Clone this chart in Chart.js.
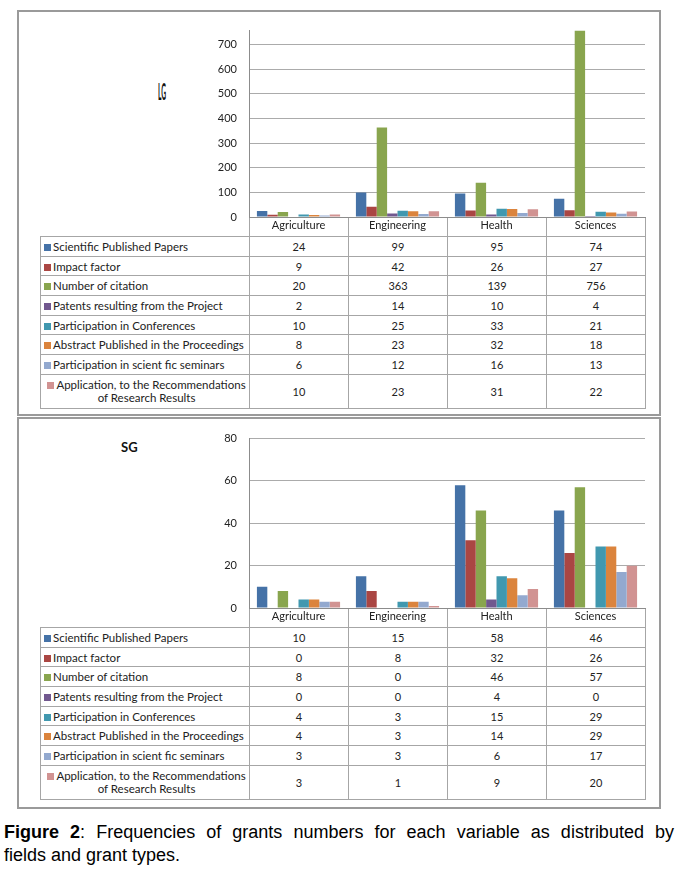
<!DOCTYPE html>
<html><head><meta charset="utf-8">
<script src="https://cdn.jsdelivr.net/npm/chart.js@4"></script>
<style>
body{margin:0;background:#fff;width:679px;height:871px;position:relative;overflow:hidden;font-family:Lato,sans-serif;}
.box{position:absolute;left:17px;width:644px;border:2px solid #9a9a9a;box-sizing:border-box;}
.cw{position:absolute;}
table{position:absolute;left:40px;border-collapse:collapse;font-family:Lato,sans-serif;font-size:11px;color:#222;table-layout:fixed;}
td{border:1px solid #a6a6a6;padding:0;text-align:center;line-height:13px;}
tr{height:19.7px;}
td.lab{text-align:left;padding-left:3px;white-space:nowrap;font-size:11.5px;}
td.lab2{text-align:center;padding-left:3px;white-space:nowrap;font-size:11.5px;}
.sq{display:inline-block;width:7px;height:7px;margin-right:2px;vertical-align:0px;}
.title{position:absolute;font-weight:bold;font-size:12px;line-height:12px;color:#111;}
.cap{position:absolute;left:4px;width:670px;font-family:"Liberation Sans",Arial,sans-serif;font-size:18px;line-height:23px;color:#000;white-space:nowrap;}
.cap1{text-align:justify;text-align-last:justify;white-space:normal;}
</style></head>
<body>
<div class="box" style="top:10px;height:406px;"></div>
<div class="box" style="top:417px;height:392px;"></div>
<span class="title" style="left:158px;top:81px;transform:scale(0.55,1.9);transform-origin:0 0;">LG</span>
<span class="title" style="left:121px;top:441px;font-size:13px;line-height:13px;">SG</span>
<div class="cw" style="left:190px;top:12px;width:470px;height:224px;"><canvas id="c1"></canvas></div>
<div class="cw" style="left:190px;top:420px;width:470px;height:207px;"><canvas id="c2"></canvas></div>
<table id="t1" style="top:236px;"></table>
<table id="t2" style="top:627px;"></table>
<div class="cap cap1" style="top:821px;"><b>Figure 2</b>: Frequencies of grants numbers for each variable as distributed by</div>
<div class="cap" style="top:844px;">fields and grant types.</div>
<script>
const categories = ['Agriculture','Engineering','Health','Sciences'];
const seriesNames = ['Scientific Published Papers','Impact factor','Number of citation','Patents resulting from the Project','Participation in Conferences','Abstract Published in the Proceedings','Participation in scient\u00A0fic seminars','Application, to the Recommendations|of Research Results'];
const seriesColors = ['#4572A7','#AA4643','#89A54E','#71588F','#4198AF','#DB843D','#93A9CF','#D19392'];

// LG values (per series, by category)
const lgPapers = [24,99,95,74];
const lgImpact = [9,42,26,27];
const lgCitation = [20,363,139,756];
const lgPatents = [2,14,10,4];
const lgConferences = [10,25,33,21];
const lgAbstracts = [8,23,32,18];
const lgSeminars = [6,12,16,13];
const lgApplication = [10,23,31,22];

// SG values
const sgPapers = [10,15,58,46];
const sgImpact = [0,8,32,26];
const sgCitation = [8,0,46,57];
const sgPatents = [0,0,4,0];
const sgConferences = [4,3,15,29];
const sgAbstracts = [4,3,14,29];
const sgSeminars = [3,3,6,17];
const sgApplication = [3,1,9,20];

const lgTicks = [0,100,200,300,400,500,600,700];
const sgTicks = [0,20,40,60,80];

const lgSeries = [lgPapers,lgImpact,lgCitation,lgPatents,lgConferences,lgAbstracts,lgSeminars,lgApplication];
const sgSeries = [sgPapers,sgImpact,sgCitation,sgPatents,sgConferences,sgAbstracts,sgSeminars,sgApplication];

const FONT = {family:'Lato, sans-serif', size:11};

function makeChart(id, series, max, ticks, includeBounds){
  const step = ticks[1]-ticks[0];
  return new Chart(document.getElementById(id), {
    type:'bar',
    data:{
      labels:categories,
      datasets:series.map((d,i)=>({label:seriesNames[i].replace('|',' '),data:d,backgroundColor:seriesColors[i],borderWidth:0,categoryPercentage:0.84,barPercentage:1.0}))
    },
    options:{
      responsive:true, maintainAspectRatio:false, animation:false,
      devicePixelRatio:1,
      layout:{padding:{top:12,right:15,bottom:0,left:0}},
      plugins:{legend:{display:false},tooltip:{enabled:false},title:{display:false}},
      scales:{
        x:{
          grid:{display:true,drawOnChartArea:false,drawTicks:true,tickLength:19,color:'#a6a6a6',offset:true},
          border:{display:true,color:'#8c8c8c'},
          ticks:{padding:-17,font:FONT,color:'#222',maxRotation:0,autoSkip:false},
          afterFit(s){s.height=19;}
        },
        y:{
          min:0,max:max,
          ticks:{stepSize:step,includeBounds:includeBounds,padding:12,font:FONT,color:'#222'},
          grid:{color:'#ababab',drawTicks:false},
          border:{display:true,color:'#8c8c8c'},
          afterFit(s){s.width=59;}
        }
      }
    }
  });
}
makeChart('c1', lgSeries, 756, lgTicks, false);
makeChart('c2', sgSeries, 80, sgTicks, true);

function buildTable(id, series){
  const t = document.getElementById(id);
  let h = '<colgroup><col style="width:209px"><col style="width:99px"><col style="width:99px"><col style="width:99px"><col style="width:99px"></colgroup>';
  series.forEach((d,i)=>{
    const parts = seriesNames[i].split('|');
    const sq = '<span class="sq" style="background:'+seriesColors[i]+'"></span>';
    if(parts.length>1){
      h += '<tr style="height:34px"><td class="lab2">'+sq+parts[0]+'<br>'+parts[1]+'</td>';
    } else {
      h += '<tr><td class="lab">'+sq+parts[0]+'</td>';
    }
    d.forEach(v=>{h += '<td>'+v+'</td>';});
    h += '</tr>';
  });
  t.innerHTML = h;
}
buildTable('t1', lgSeries);
buildTable('t2', sgSeries);
</script>
</body></html>
